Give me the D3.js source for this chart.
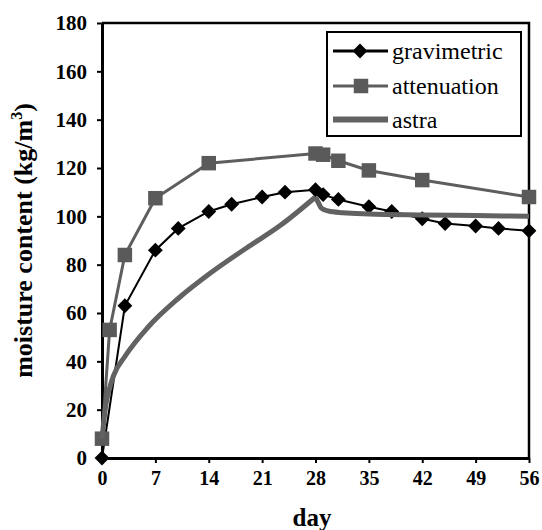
<!DOCTYPE html>
<html>
<head>
<meta charset="utf-8">
<script src="https://cdn.jsdelivr.net/npm/d3@7"></script>
<style>
  body { margin: 0; background: #fff; }
  svg { display: block; }
</style>
</head>
<body>
<div id="canvas"></div>
<script>
"use strict"

// data
let gravDays = [0, 3, 7, 10, 14, 17, 21, 24, 28, 29, 31, 35, 38, 42, 45, 49, 52, 56]
let gravValues = [0, 63, 86, 95, 102, 105, 108, 110, 111, 109, 107, 104, 102, 99, 97, 96, 95, 94]

let attenDays = [0, 1, 3, 7, 14, 28, 29, 31, 35, 42, 56]
let attenValues = [8, 53, 84, 107.5, 122, 126, 125.5, 123, 119, 115, 108]

let astraDays = [0, 0.5, 1, 1.5, 3, 6, 10, 14, 19, 23.5, 28, 28.4, 28.8, 29.7, 31.6, 35, 42, 49, 56]
let astraValues = [8, 22, 29, 34, 42, 54, 66, 76, 87, 96.5, 108, 105.5, 103.3, 102.2, 101.5, 101, 100.6, 100.3, 100]

let xTicks = [0, 7, 14, 21, 28, 35, 42, 49, 56]
let yTicks = [0, 20, 40, 60, 80, 100, 120, 140, 160, 180]
let seriesNames = ["gravimetric", "attenuation", "astra"]

let W = 542, H = 530
let plotLeft = 102, plotRight = 529, plotTop = 23, plotBottom = 458
let serif = "'Liberation Serif', 'DejaVu Serif', serif"

let drawing = d3.select("#canvas")
    .append("svg")
    .attr("width", W)
    .attr("height", H)
    .attr("font-family", serif)

let x = d3.scaleLinear().domain([0, 56]).range([plotLeft, plotRight])
let y = d3.scaleLinear().domain([0, 180]).range([plotBottom, plotTop])

// frame (top and right sides)
drawing.append("path")
    .attr("d", `M${plotLeft},${plotTop}H${plotRight}V${plotBottom}`)
    .attr("fill", "none")
    .attr("stroke", "#000")
    .attr("stroke-width", 2.5)

// axes
let xAxis = drawing.append("g")
    .attr("transform", `translate(0,${plotBottom})`)
    .call(d3.axisBottom(x).tickValues(xTicks).tickSize(5).tickSizeOuter(0).tickPadding(8))
xAxis.attr("font-family", serif)
xAxis.select(".domain").attr("stroke-width", 3)
xAxis.selectAll(".tick line").attr("stroke-width", 2)
xAxis.selectAll("text")
    .attr("font-weight", "bold")
    .attr("font-size", 20)
    .attr("fill", "#000")

let yAxis = drawing.append("g")
    .attr("transform", `translate(${plotLeft},0)`)
    .call(d3.axisLeft(y).tickValues(yTicks).tickSize(5).tickSizeOuter(0).tickPadding(10))
yAxis.attr("font-family", serif)
yAxis.select(".domain").attr("stroke-width", 3)
yAxis.selectAll(".tick line").attr("stroke-width", 2)
yAxis.selectAll("text")
    .attr("font-weight", "bold")
    .attr("font-size", 21)
    .attr("fill", "#000")

// axis titles
drawing.append("text")
    .attr("x", 312)
    .attr("y", 526)
    .attr("text-anchor", "middle")
    .attr("font-weight", "bold")
    .attr("font-size", 25)
    .text("day")

let yTitle = drawing.append("text")
    .attr("transform", `translate(32,${(plotTop + plotBottom) / 2}) rotate(-90)`)
    .attr("text-anchor", "middle")
    .attr("font-weight", "bold")
    .attr("font-size", 26)
yTitle.append("tspan").text("moisture content (kg/m")
yTitle.append("tspan").attr("font-size", 16).attr("dy", -10).text("3")
yTitle.append("tspan").attr("dy", 10).text(")")

// series
let grav = gravDays.map((d, i) => ({ day: d, value: gravValues[i] }))
let atten = attenDays.map((d, i) => ({ day: d, value: attenValues[i] }))
let astra = astraDays.map((d, i) => ({ day: d, value: astraValues[i] }))

let straight = d3.line().x(d => x(d.day)).y(d => y(d.value))
let smooth = d3.line().x(d => x(d.day)).y(d => y(d.value)).curve(d3.curveMonotoneX)

let diamond = d3.symbol().type(d3.symbolSquare).size(110)
let square = d3.symbol().type(d3.symbolSquare).size(210)

drawing.append("path")
    .attr("d", straight(grav))
    .attr("fill", "none")
    .attr("stroke", "#000")
    .attr("stroke-width", 2)

drawing.selectAll(".grav")
    .data(grav)
    .enter()
    .append("path")
    .attr("class", "grav")
    .attr("d", diamond)
    .attr("transform", d => `translate(${x(d.day)},${y(d.value)}) rotate(45)`)
    .attr("fill", "#000")

drawing.append("path")
    .attr("d", straight(atten))
    .attr("fill", "none")
    .attr("stroke", "#5e5e5e")
    .attr("stroke-width", 3)

drawing.selectAll(".atten")
    .data(atten)
    .enter()
    .append("path")
    .attr("class", "atten")
    .attr("d", square)
    .attr("transform", d => `translate(${x(d.day)},${y(d.value)})`)
    .attr("fill", "#5a5a5a")

// astra rises to a sharp peak at day 28, then falls
let peak = astraDays.indexOf(28)
drawing.append("path")
    .attr("d", smooth(astra.slice(0, peak + 1)) + smooth(astra.slice(peak)))
    .attr("fill", "none")
    .attr("stroke", "#626262")
    .attr("stroke-width", 5)
    .attr("stroke-linejoin", "round")

// legend
let legend = drawing.append("g")
legend.append("rect")
    .attr("x", 327)
    .attr("y", 32)
    .attr("width", 194)
    .attr("height", 104)
    .attr("fill", "#fff")
    .attr("stroke", "#000")
    .attr("stroke-width", 2)

let rowY = [51, 86, 119.5]
let rowColor = ["#000", "#5e5e5e", "#626262"]
let rowWidth = [3, 3, 6]

seriesNames.forEach((name, i) => {
    legend.append("line")
        .attr("x1", 333)
        .attr("x2", 388)
        .attr("y1", rowY[i])
        .attr("y2", rowY[i])
        .attr("stroke", rowColor[i])
        .attr("stroke-width", rowWidth[i])
    legend.append("text")
        .attr("x", 392)
        .attr("y", rowY[i] + 8)
        .attr("font-family", serif)
        .attr("font-size", 24)
        .text(name)
})
legend.append("path")
    .attr("d", diamond)
    .attr("transform", `translate(360,${rowY[0]}) rotate(45)`)
    .attr("fill", "#000")
legend.append("path")
    .attr("d", square)
    .attr("transform", `translate(361,${rowY[1]})`)
    .attr("fill", "#5a5a5a")
</script>
</body>
</html>
